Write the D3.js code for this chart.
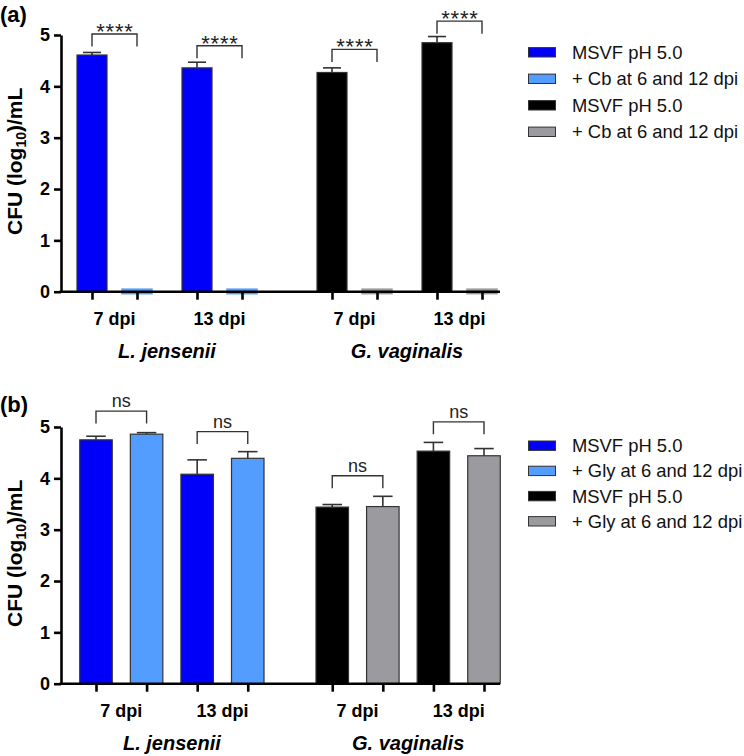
<!DOCTYPE html>
<html><head><meta charset="utf-8">
<script src="https://cdn.jsdelivr.net/npm/d3@7"></script>
<style>body{margin:0;background:#fff}svg{display:block;font-family:Arial,"Liberation Sans",sans-serif}</style>
</head><body><svg id="c" width="744" height="756"></svg>
<script>
// ---------- data ----------
const categories = ["7 dpi", "13 dpi", "7 dpi", "13 dpi"];
const species = ["L. jensenii", "G. vaginalis"];
const yTicks = [0, 1, 2, 3, 4, 5];

// Panel (a): carbenicillin
const aControl = [4.61, 4.36, 4.27, 4.85];
const aControlErr = [0.05, 0.11, 0.09, 0.12];
const aTreat = [0.03, 0.03, 0.03, 0.03];
const aTreatErr = [0, 0, 0, 0];
const aSig = ["****", "****", "****", "****"];
const aBracket = [5.02, 4.79, 4.72, 5.27];
const aLegend = ["MSVF pH 5.0", "+ Cb at 6 and 12 dpi", "MSVF pH 5.0", "+ Cb at 6 and 12 dpi"];

// Panel (b): glycogen
const bControl = [4.75, 4.08, 3.44, 4.53];
const bControlErr = [0.07, 0.28, 0.05, 0.17];
const bTreat = [4.86, 4.39, 3.45, 4.44];
const bTreatErr = [0.03, 0.13, 0.20, 0.14];
const bSig = ["ns", "ns", "ns", "ns"];
const bBracket = [5.31, 4.91, 4.05, 5.10];
const bLegend = ["MSVF pH 5.0", "+ Gly at 6 and 12 dpi", "MSVF pH 5.0", "+ Gly at 6 and 12 dpi"];

// ---------- style ----------
const colors = ["#0000fa", "#529dff", "#000000", "#9b9b9f"]; // L control, L treat, G control, G treat
const svg = d3.select("#c");
const AX = "#000";

function drawPanel(o) {
  const g = svg.append("g");
  const y = d3.scaleLinear().domain([0, 5]).range([o.y0, o.y5]);
  const x = d3.scaleLinear().domain([o.slots[0], o.slots[o.slots.length - 1]]).range(o.xr);
  const bars = [];
  categories.forEach((c, i) => {
    const gi = i < 2 ? 0 : 2;
    bars.push({ v: o.control[i], e: o.controlErr[i], slot: o.slots[2 * i], col: colors[gi], zero: false });
    bars.push({ v: o.treat[i], e: o.treatErr[i], slot: o.slots[2 * i + 1], col: colors[gi + 1], zero: o.treat[i] < 0.1 });
  });
  const bw = o.bw;
  // bars
  g.selectAll("rect.bar").data(bars).join("rect").attr("class", "bar")
    .attr("x", d => x(d.slot) - bw / 2).attr("width", bw)
    .attr("y", d => y(d.v) - (d.zero ? 1 : 0))
    .attr("height", d => y(0) - y(d.v) + (d.zero ? 3 : 0))
    .attr("fill", d => d.col)
    .attr("stroke", d => d.zero ? d.col : "#333").attr("stroke-width", d => d.zero ? 1.5 : 1.2);
  // error bars
  const eb = bars.filter(d => d.e > 0);
  g.selectAll("line.ev").data(eb).join("line")
    .attr("x1", d => x(d.slot)).attr("x2", d => x(d.slot))
    .attr("y1", d => y(d.v)).attr("y2", d => y(d.v + d.e))
    .attr("stroke", "#333").attr("stroke-width", 1.6);
  g.selectAll("line.ec").data(eb).join("line")
    .attr("x1", d => x(d.slot) - bw * 0.3).attr("x2", d => x(d.slot) + bw * 0.3)
    .attr("y1", d => y(d.v + d.e)).attr("y2", d => y(d.v + d.e))
    .attr("stroke", "#333").attr("stroke-width", 1.6);
  // brackets
  categories.forEach((c, i) => {
    const x1 = x(o.slots[2 * i]), x2 = x(o.slots[2 * i + 1]);
    const yt = y(o.bracket[i]);
    g.append("path").attr("d", `M${x1},${yt + 12.5}V${yt}H${x2}V${yt + 12.5}`)
      .attr("fill", "none").attr("stroke", "#333").attr("stroke-width", 1.4);
    const t = g.append("text").attr("x", (x1 + x2) / 2).attr("text-anchor", "middle")
      .attr("fill", "#222").text(o.sig[i]);
    if (o.sig[i].startsWith("*")) t.attr("y", yt + 5).attr("font-size", 22).attr("letter-spacing", 0.8).attr("dx", 0.4);
    else t.attr("y", yt - 4).attr("font-size", 18);
  });
  // y axis
  const ya = g.append("g").attr("transform", `translate(${o.axL},0)`)
    .call(d3.axisLeft(y).tickValues(yTicks).tickFormat(d3.format("d")).tickSize(7).tickSizeOuter(0).tickPadding(4));
  ya.select(".domain").attr("stroke", AX).attr("stroke-width", 2.6);
  ya.selectAll(".tick line").attr("stroke", AX).attr("stroke-width", 2.6);
  ya.selectAll(".tick text").attr("font-size", 18).attr("font-weight", "bold").attr("fill", "#000")
    .attr("font-family", "Arial, 'Liberation Sans', sans-serif");
  // x axis ticks
  const xa = g.append("g").attr("transform", `translate(0,${o.y0})`)
    .call(d3.axisBottom(x).tickValues(o.slots).tickFormat("").tickSize(8).tickSizeOuter(0));
  xa.select(".domain").remove();
  xa.selectAll(".tick line").attr("stroke", AX).attr("stroke-width", 2.6);
  g.append("line").attr("x1", o.axL - 1.3).attr("x2", o.axR).attr("y1", o.y0).attr("y2", o.y0)
    .attr("stroke", AX).attr("stroke-width", 2.6);
  // category labels
  categories.forEach((c, i) => {
    g.append("text").attr("x", (x(o.slots[2 * i]) + x(o.slots[2 * i + 1])) / 2).attr("y", o.y0 + 33)
      .attr("text-anchor", "middle").attr("font-size", 18).attr("font-weight", "bold").text(c);
  });
  species.forEach((s, k) => {
    g.append("text").attr("x", (x(o.slots[4 * k]) + x(o.slots[4 * k + 3])) / 2).attr("y", o.y0 + 66)
      .attr("text-anchor", "middle").attr("font-size", 20).attr("font-weight", "bold")
      .attr("font-style", "italic").text(s);
  });
  // y title
  const yc = (o.y0 + o.y5) / 2 - 2;
  const tt = g.append("text").attr("transform", `translate(21.5,${yc}) rotate(-90)`)
    .attr("text-anchor", "middle").attr("font-size", 21).attr("font-weight", "bold");
  tt.append("tspan").text("CFU (log");
  tt.append("tspan").attr("font-size", 14).attr("dy", 4).text("10");
  tt.append("tspan").attr("dy", -4).text(")/mL");
  // panel label
  g.append("text").attr("x", 0).attr("y", o.labY).attr("font-size", 22).attr("font-weight", "bold").text(o.label);
  // legend
  o.legend.forEach((l, i) => {
    const ly = o.legY + i * o.legStep;
    g.append("rect").attr("x", 528.5).attr("y", ly - 4.7).attr("width", 27).attr("height", 9.4)
      .attr("fill", colors[i]).attr("stroke", "#333").attr("stroke-width", 1);
    g.append("text").attr("x", 572).attr("y", ly + 6.5).attr("font-size", 18.4).attr("fill", "#111").text(l);
  });
}

drawPanel({ y0: 291.7, y5: 35, slots: [0, 3, 7, 10, 16, 19, 23, 26], xr: [92, 482], bw: 30,
  axL: 61, axR: 500, control: aControl, controlErr: aControlErr, treat: aTreat, treatErr: aTreatErr,
  sig: aSig, bracket: aBracket, legend: aLegend, legY: 52.3, legStep: 26.5, label: "(a)", labY: 22 });
drawPanel({ y0: 683.7, y5: 427, slots: [0, 1, 2, 3, 4.67, 5.67, 6.67, 7.67], xr: [96, 484], bw: 32.5,
  axL: 61, axR: 500, control: bControl, controlErr: bControlErr, treat: bTreat, treatErr: bTreatErr,
  sig: bSig, bracket: bBracket, legend: bLegend, legY: 445.7, legStep: 25.2, label: "(b)", labY: 412 });
</script></body></html>
